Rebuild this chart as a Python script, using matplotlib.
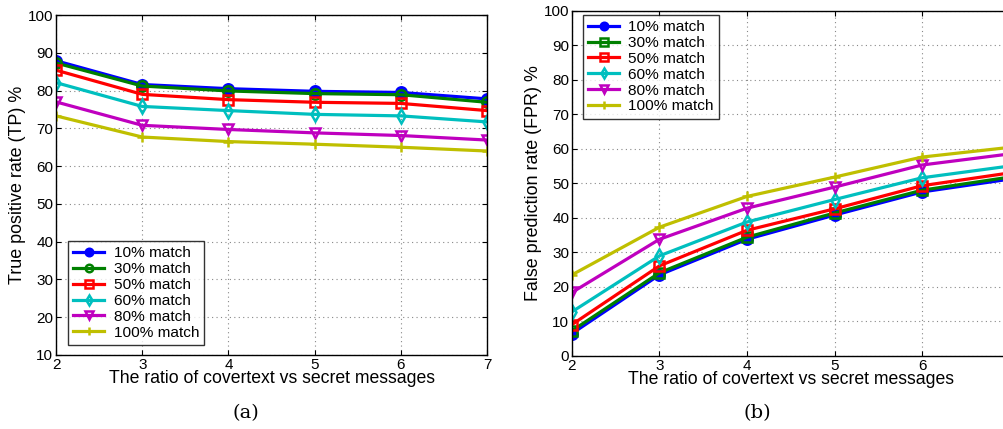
import matplotlib
matplotlib.use('Agg')
import matplotlib.pyplot as plt

plt.rcParams['font.family'] = ['Liberation Sans', 'DejaVu Sans']

ratio = [2, 3, 4, 5, 6, 7]
labels = ['10% match', '30% match', '50% match', '60% match', '80% match', '100% match']

# (a) true positive rate
tp_10 = [87.9, 81.6, 80.5, 79.8, 79.5, 77.8]
tp_30 = [87.3, 81.2, 79.9, 79.2, 78.9, 76.9]
tp_50 = [85.4, 79.0, 77.6, 76.9, 76.6, 74.7]
tp_60 = [82.1, 75.8, 74.7, 73.7, 73.3, 71.7]
tp_80 = [77.0, 70.8, 69.7, 68.8, 68.1, 66.9]
tp_100 = [73.3, 67.7, 66.5, 65.8, 65.0, 64.0]

# (b) false prediction rate
fpr_10 = [6.5, 23.5, 33.8, 40.8, 47.5, 51.2]
fpr_30 = [7.3, 24.1, 34.4, 41.4, 48.0, 51.8]
fpr_50 = [9.1, 26.1, 36.4, 42.6, 49.3, 53.0]
fpr_60 = [12.8, 29.0, 38.8, 45.3, 51.6, 55.0]
fpr_80 = [18.4, 33.8, 42.8, 48.9, 55.3, 58.5]
fpr_100 = [23.5, 37.3, 46.2, 51.8, 57.6, 60.4]

colors = ['#0000ff', '#008000', '#ff0000', '#00bfbf', '#bf00bf', '#bfbf00']
markers_a = ['o', 'o', 's', 'd', 'v', '+']
markers_b = ['o', 's', 's', 'd', 'v', '+']

fig = plt.figure(figsize=(10.04, 4.29), dpi=100)
ax1 = fig.add_axes([0.0558, 0.1725, 0.4293, 0.7925])
ax2 = fig.add_axes([0.5697, 0.1702, 0.4358, 0.805])


def draw(ax, series, markers, ylim, yticks, ylabel, loc, anchor):
    for i, vals in enumerate(series):
        face = colors[i] if i == 0 else 'none'
        ax.plot(ratio, vals, color=colors[i], marker=markers[i], lw=2.3,
                ms=7.5, mew=1.8, mfc=face, mec=colors[i], label=labels[i])
    ax.set_xlim(2, 7)
    ax.set_ylim(*ylim)
    ax.set_xticks(ratio)
    ax.set_yticks(yticks)
    ax.grid(True, color='#888888', linestyle=(0, (1, 3)), linewidth=0.8)
    ax.tick_params(direction='in', top=True, right=True, labelsize=11, pad=2)
    for s in ax.spines.values():
        s.set_linewidth(1.0)
    ax.set_xlabel('The ratio of covertext vs secret messages', fontsize=12.7, labelpad=-1)
    ax.set_ylabel(ylabel, fontsize=12.9, labelpad=1)
    leg = ax.legend(loc=loc, bbox_to_anchor=anchor, borderaxespad=0, fontsize=11.1,
                    frameon=True, fancybox=False, edgecolor='black',
                    handlelength=2.0, labelspacing=0.12, borderpad=0.35,
                    handletextpad=0.6, markerscale=0.72)
    leg.get_frame().set_linewidth(1.0)


draw(ax1, [tp_10, tp_30, tp_50, tp_60, tp_80, tp_100], markers_a,
     (10, 100), range(10, 101, 10), 'True positive rate (TP) %',
     'lower left', (0.028, 0.029))
draw(ax2, [fpr_10, fpr_30, fpr_50, fpr_60, fpr_80, fpr_100], markers_b,
     (0, 100), range(0, 101, 10), 'False prediction rate (FPR) %',
     'upper left', (0.025, 0.988))
# the last tick of (b) falls outside the figure edge
ax2.set_xticklabels(['2', '3', '4', '5', '6', ''])

fig.text(0.245, 0.025, '(a)', family='DejaVu Serif', fontsize=14, ha='center')
fig.text(0.754, 0.025, '(b)', family='DejaVu Serif', fontsize=14, ha='center')

fig.savefig('out.png', dpi=100)
